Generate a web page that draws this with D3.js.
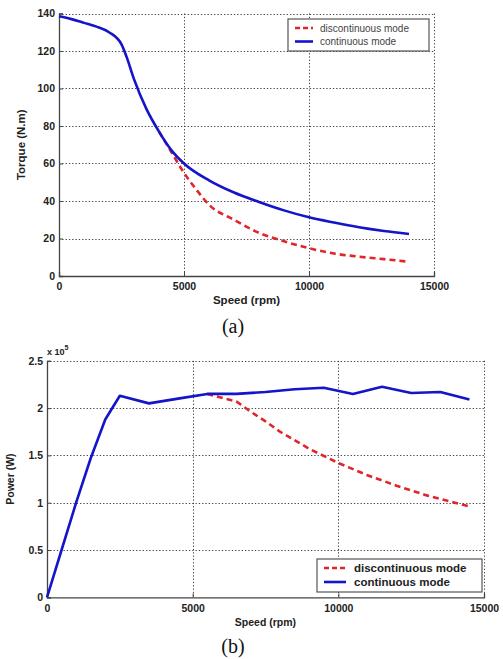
<!DOCTYPE html>
<html><head><meta charset="utf-8">
<script src="https://cdn.jsdelivr.net/npm/d3@7"></script>
<style>html,body{margin:0;padding:0;background:#fff;}svg{display:block;}</style>
</head><body>
<svg id="c" width="503" height="659"></svg>
<script>
// ---- Data: (a) torque vs speed ----
const torqueSpeedCont = [0,500,1000,1500,2000,2500,2700,3000,3500,4000,4500,5000,6000,7000,8000,9000,10000,11000,12000,13000,14000];
const torqueCont      = [138.5,137,135,133,130,123.5,117,105,89,77,67,60,51,44.5,39.5,35,31.3,28.5,26,24,22.4];
const torqueSpeedDisc = [4000,4500,5000,5500,6000,7000,8000,9000,10000,11000,12000,13000,14000];
const torqueDisc      = [77,66,55,46,38,30,23,18.5,14.8,12,10.3,9,7.6];
const torqueXTicks = [0,5000,10000,15000];
const torqueYTicks = [0,20,40,60,80,100,120,140];

// ---- Data: (b) power vs speed (x 10^5 W) ----
const powerSpeedCont = [0,500,1000,1500,2000,2500,3500,4500,5500,6500,7500,8500,9500,10500,11500,12500,13500,14500];
const powerCont      = [0,0.5,1.0,1.47,1.88,2.13,2.05,2.1,2.15,2.15,2.17,2.2,2.215,2.15,2.225,2.16,2.17,2.09];
const powerSpeedDisc = [5500,6500,7000,7500,8000,9000,10000,11000,12000,13000,14000,14500];
const powerDisc      = [2.15,2.07,1.96,1.86,1.75,1.57,1.42,1.29,1.18,1.08,1.0,0.96];
const powerXTicks = [0,5000,10000,15000];
const powerYTicks = [0,0.5,1,1.5,2,2.5];
const powerYLabels = ["0","0.5","1","1.5","2","2.5"];

const seriesNames = ["discontinuous mode","continuous mode"];
const BLUE = "#1414c8", RED = "#e0252b";

const svg = d3.select("#c");
svg.append("rect").attr("width",503).attr("height",659).attr("fill","#fff");

function panel(o){
  const g = svg.append("g");
  const x = d3.scaleLinear().domain(o.xDomain).range([o.left,o.right]);
  const y = d3.scaleLinear().domain(o.yDomain).range([o.bottom,o.top]);
  // grid
  const grid = g.append("g").attr("stroke","#444").attr("stroke-width",1).attr("stroke-dasharray","1.3,2");
  grid.selectAll("line.v").data(o.xTicks.filter(d=>d>0)).join("line")
    .attr("x1",d=>Math.round(x(d))+0.5).attr("x2",d=>Math.round(x(d))+0.5)
    .attr("y1",o.top).attr("y2",o.bottom);
  grid.selectAll("line.h").data(o.yTicks.filter(d=>d>o.yDomain[0])).join("line")
    .attr("y1",d=>Math.round(y(d))+0.5).attr("y2",d=>Math.round(y(d))+0.5)
    .attr("x1",o.left).attr("x2",o.right);
  // axes
  const xa = d3.axisBottom(x).tickValues(o.xTicks).tickSize(-4).tickPadding(7).tickFormat(d3.format("d"));
  const ya = d3.axisLeft(y).tickValues(o.yTicks).tickSize(-4).tickPadding(4).tickFormat((d,i)=>o.yLabels?o.yLabels[i]:d);
  const gx = g.append("g").attr("transform",`translate(0,${o.bottom})`).call(xa);
  const gy = g.append("g").attr("transform",`translate(${o.left},0)`).call(ya);
  [gx,gy].forEach(a=>{
    a.select(".domain").attr("stroke","#444").attr("stroke-width",1.3);
    a.selectAll(".tick line").attr("stroke","#444");
    a.selectAll("text").attr("fill","#222").attr("font-family","Liberation Sans, Arial, sans-serif")
      .attr("font-weight","bold").attr("font-size",o.tickSize+"px");
  });
  // lines
  const line = d3.line().x(d=>x(d[0])).y(d=>y(d[1])).curve(o.curve);
  g.append("path").datum(o.discX.map((s,i)=>[s,o.discY[i]]))
    .attr("d",line).attr("fill","none").attr("stroke",RED).attr("stroke-width",2.6)
    .attr("stroke-dasharray","6,4");
  g.append("path").datum(o.contX.map((s,i)=>[s,o.contY[i]]))
    .attr("d",line).attr("fill","none").attr("stroke",BLUE).attr("stroke-width",2.6)
    .attr("stroke-linejoin","round");
  // axis titles
  g.append("text").attr("x",(o.left+o.right)/2).attr("y",o.xTitleY).attr("text-anchor","middle")
    .attr("font-family","Liberation Sans, Arial, sans-serif").attr("font-weight","bold")
    .attr("font-size",o.titleSize+"px").attr("fill","#222").text("Speed (rpm)");
  g.append("text").attr("transform",`translate(${o.yTitleX},${(o.top+o.bottom)/2}) rotate(-90)`)
    .attr("text-anchor","middle").attr("font-family","Liberation Sans, Arial, sans-serif")
    .attr("font-weight","bold").attr("font-size",o.titleSize+"px").attr("fill","#222").text(o.yTitle);
  // legend
  const L = o.legend;
  const lg = g.append("g");
  lg.append("rect").attr("x",L.x).attr("y",L.y).attr("width",L.w).attr("height",L.h)
    .attr("fill","#fff").attr("stroke","#555").attr("stroke-width",1.2);
  seriesNames.forEach((nm,i)=>{
    const yy = L.y + L.first + i*L.step;
    lg.append("line").attr("x1",L.x+L.s0).attr("x2",L.x+L.s1).attr("y1",yy).attr("y2",yy)
      .attr("stroke",i===0?RED:BLUE).attr("stroke-width",2.6)
      .attr("stroke-dasharray",i===0?"5,3":null);
    lg.append("text").attr("x",L.x+L.tx).attr("y",yy).attr("dy","0.35em")
      .attr("font-family","Liberation Sans, Arial, sans-serif").attr("font-weight",L.weight)
      .attr("font-size",L.fs+"px").attr("fill",L.color).text(nm);
  });
  return {x,y,g};
}

panel({
  xDomain:[0,15000], yDomain:[0,140], left:59, right:434, top:13.5, bottom:276,
  xTicks:torqueXTicks, yTicks:torqueYTicks, tickSize:10.5, titleSize:11.5, curve:d3.curveMonotoneX,
  contX:torqueSpeedCont, contY:torqueCont, discX:torqueSpeedDisc, discY:torqueDisc,
  xTitleY:304, yTitleX:25, yTitle:"Torque (N.m)",
  legend:{x:288,y:19,w:141,h:32,first:9,step:13.5,s0:7,s1:25,tx:32,fs:10,weight:"normal",color:"#444"}
});

panel({
  xDomain:[0,15000], yDomain:[0,2.5], left:47, right:484, top:360.8, bottom:597.3,
  xTicks:powerXTicks, yTicks:powerYTicks, yLabels:powerYLabels, tickSize:10.5, titleSize:10.5, curve:d3.curveLinear,
  contX:powerSpeedCont, contY:powerCont, discX:powerSpeedDisc, discY:powerDisc,
  xTitleY:626, yTitleX:14, yTitle:"Power (W)",
  legend:{x:317,y:559,w:165,h:33,first:9,step:14,s0:7,s1:29,tx:37,fs:11.5,weight:"bold",color:"#222"}
});

// exponent label
const ex = svg.append("text").attr("x",47).attr("y",355)
  .attr("font-family","Liberation Sans, Arial, sans-serif").attr("font-weight","bold")
  .attr("font-size","9px").attr("fill","#222");
ex.append("tspan").text("x 10");
ex.append("tspan").attr("dy","-5").attr("font-size","7px").text("5");

// sub-figure captions
svg.append("text").attr("x",233).attr("y",333).attr("text-anchor","middle")
  .attr("font-family","Liberation Serif, Times New Roman, serif").attr("font-size","20px").attr("fill","#111").text("(a)");
svg.append("text").attr("x",233).attr("y",653).attr("text-anchor","middle")
  .attr("font-family","Liberation Serif, Times New Roman, serif").attr("font-size","20px").attr("fill","#111").text("(b)");
</script>
</body></html>
